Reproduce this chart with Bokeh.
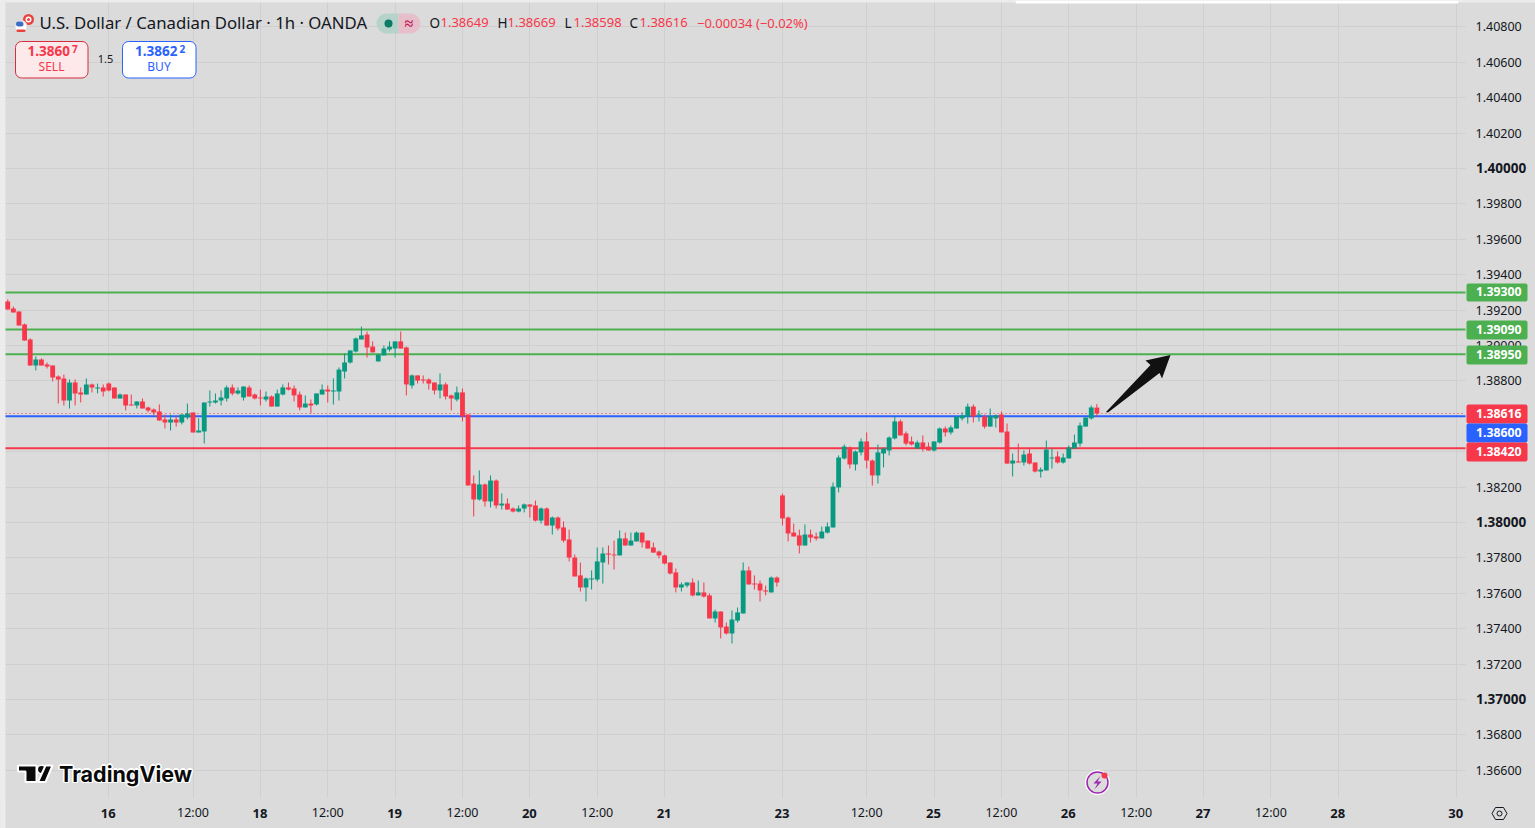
import math
from bokeh.plotting import figure
from bokeh.embed import file_html
from bokeh.resources import INLINE
from bokeh.models import (ColumnDataSource, FixedTicker, Label, BoxAnnotation, PolyAnnotation)

# Candles, in points (0.00001) above 1.38000
opens_pts = [1249,1209,1192,1119,1034,887,921,893,887,825,
814,689,791,735,723,780,757,763,785,763,
701,723,667,661,684,650,638,627,582,565,
582,565,593,622,509,514,678,678,689,701,
763,729,706,763,723,706,695,712,655,723,
763,757,723,650,672,667,723,751,740,740,
853,904,966,1034,1062,994,910,944,977,983,
1023,989,774,831,808,808,791,746,780,718,
695,735,610,220,130,215,119,237,96,107,
79,62,79,102,96,11,79,-17,28,-28,
-96,-198,-299,-367,-322,-322,-226,-175,-181,-186,
-90,-130,-107,-57,-102,-141,-164,-186,-226,-282,
-367,-356,-339,-412,-395,-412,-542,-503,-588,-627,
-554,-514,-271,-345,-345,-384,-395,-311,153,28,
-57,-73,-130,-68,-79,-90,-57,-28,198,362,
424,328,396,458,350,266,390,407,475,571,
503,458,418,452,429,407,452,531,509,531,
588,599,655,605,599,542,588,610,514,333,
345,339,390,339,288,294,362,373,339,362,
418,446,542,588,649]
closes_pts = [1203,1187,1113,1028,887,921,887,881,819,808,
689,791,729,723,780,763,763,740,746,701,
723,661,661,684,644,633,622,576,565,582,
565,610,616,509,520,678,684,689,706,763,
729,746,768,712,701,701,712,655,729,763,
751,718,650,672,661,729,751,740,746,864,
904,972,1040,1057,989,961,949,983,994,1023,
983,780,831,802,802,785,746,780,712,701,
735,599,209,130,215,119,237,96,107,73,
62,79,102,90,11,79,-17,28,-34,-102,
-198,-305,-367,-316,-316,-220,-175,-181,-186,-90,
-130,-102,-57,-113,-147,-170,-186,-232,-288,-367,
-350,-339,-412,-395,-418,-542,-503,-593,-627,-548,
-508,-271,-350,-350,-384,-390,-311,-339,23,-62,
-79,-130,-68,-85,-90,-51,-23,203,367,429,
328,401,458,350,266,396,418,480,571,492,
446,441,452,418,407,458,531,509,537,599,
605,655,599,610,542,599,605,509,333,350,
339,384,333,288,299,412,367,339,367,424,
452,548,593,650,616]
highs_pts = [1260,1220,1192,1124,1040,938,927,904,887,831,
836,808,808,763,814,785,785,780,791,763,
729,723,723,684,701,655,644,667,610,610,
599,610,672,622,588,678,746,729,746,774,
780,763,768,774,729,751,740,718,751,780,
791,774,740,718,695,729,780,774,814,876,
955,972,1045,1107,1079,1023,949,1000,1023,1023,
1079,994,836,831,831,814,791,842,791,723,
768,757,610,266,294,220,266,243,164,136,
85,96,107,102,124,85,85,34,34,6,
-40,-181,-226,-311,-271,-141,-141,-130,-102,-45,
-57,-57,-51,-57,-102,-113,-158,-181,-226,-260,
-339,-339,-316,-328,-339,-401,-492,-503,-565,-497,
-480,-226,-249,-299,-328,-356,-305,-305,164,34,
-6,-40,-11,-40,-57,-23,0,226,379,441,
429,407,475,509,356,441,424,486,599,582,
514,486,463,492,452,458,537,542,548,599,
622,672,667,633,610,644,610,627,559,390,
446,407,418,339,311,463,418,401,390,435,
497,565,593,661,669]
lows_pts = [1203,1187,1113,1028,887,859,887,870,797,672,
661,644,661,678,723,735,729,712,740,701,
701,633,661,644,644,622,605,576,531,520,
542,554,582,509,509,446,655,672,661,684,
718,723,689,712,695,661,684,655,655,718,
746,684,633,650,616,661,723,678,667,689,
814,898,961,1034,932,961,910,944,966,932,
983,718,757,785,785,751,723,701,695,633,
684,571,209,34,124,90,85,79,73,73,
57,57,57,28,6,-6,-17,-68,-45,-113,
-220,-305,-390,-446,-379,-333,-345,-237,-266,-186,
-130,-130,-107,-141,-147,-170,-203,-237,-294,-395,
-390,-367,-418,-412,-424,-542,-565,-655,-633,-684,
-565,-514,-350,-379,-446,-412,-395,-362,-17,-107,
-79,-175,-130,-113,-102,-90,-62,-28,170,356,
305,294,379,305,209,220,311,379,469,492,
435,435,418,401,407,401,446,486,497,531,
576,559,565,571,531,542,537,509,333,260,
339,322,328,283,254,294,305,333,333,362,
418,429,542,582,598]

price_ticks = [1.366,1.368,1.370,1.372,1.374,1.376,1.378,1.380,1.382,1.384,1.386,1.388,
               1.390,1.392,1.394,1.396,1.398,1.400,1.402,1.404,1.406,1.408]
bold_prices = [1.370,1.380,1.400]
time_ticks = [33,57,81,105,153,177,201,225]          # 12:00 bars
day_ticks = [18,45,69,93,117,138,165,189,213,237,258]
day_labels = ["16","18","19","20","21","23","25","26","27","28","30"]
resist_levels = [1.39300,1.39090,1.38950]
support_level = 1.38420
bid_level = 1.38600
last_price = 1.38616

BG = "#dbdbdb"; GRID = "#cfcfcf"; TXT = "#131722"
RED = "#f7374a"; GREEN = "#089981"; BLUE = "#2962ff"; LINEG = "#4caf50"
FONT = "Noto Sans"
W, H = 1535, 828
PLOT_R, PLOT_B = 1465, 797
X0, STEP = 7.25, 5.614
PX_PER_PRICE = 17700.0


def xd(px):
    return (px - X0) / STEP


p = figure(width=W, height=H, x_range=(xd(0), xd(W)),
           y_range=(1.40 - (H - 168) / PX_PER_PRICE, 1.40 + 168 / PX_PER_PRICE),
           output_backend="svg", toolbar_location=None, tools="",
           min_border_left=0, min_border_top=0, min_border_right=0, min_border_bottom=0,
           background_fill_color=BG, border_fill_color=BG, outline_line_color=None,
           y_axis_location="right")

all_grid_x = sorted(time_ticks + day_ticks)
p.xgrid.ticker = FixedTicker(ticks=all_grid_x)
p.ygrid.ticker = FixedTicker(ticks=price_ticks)
for g in (p.xgrid, p.ygrid):
    g.grid_line_color = GRID
    g.grid_line_width = 1
    g.level = "image"

ax = p.xaxis[0]
ax.ticker = FixedTicker(ticks=time_ticks)
ax.major_label_overrides = {t: "12:00" for t in time_ticks}
ax.axis_line_color = None
ax.major_tick_line_color = None
ax.minor_tick_line_color = None
ax.major_label_standoff = -31
ax.major_label_text_font = FONT
ax.major_label_text_font_size = "12.5px"
ax.major_label_text_color = TXT

ay = p.yaxis[0]
plain_prices = [v for v in price_ticks if v not in bold_prices]
ay.ticker = FixedTicker(ticks=plain_prices)
ay.major_label_overrides = {v: f"{v:.5f}" for v in plain_prices}
ay.axis_line_color = None
ay.major_tick_line_color = None
ay.minor_tick_line_color = None
ay.major_label_standoff = -66
ay.major_label_text_font = FONT
ay.major_label_text_font_size = "12.5px"
ay.major_label_text_color = TXT

o = [1.38 + v / 1e5 for v in opens_pts]
c = [1.38 + v / 1e5 for v in closes_pts]
h = [1.38 + v / 1e5 for v in highs_pts]
l = [1.38 + v / 1e5 for v in lows_pts]
colors = [RED if a > b else GREEN for a, b in zip(o, c)]
src = ColumnDataSource(dict(i=list(range(len(o))), o=o, c=c, h=h, l=l,
                            top=[max(a, b) for a, b in zip(o, c)],
                            bot=[min(a, b) for a, b in zip(o, c)],
                            col=colors))


def sy(py):
    return H - py


def box(x0, y0, x1, y1, fill, line=None, radius=0, lw=1, level="annotation"):
    p.add_layout(BoxAnnotation(left=x0, right=x1, top=sy(y0), bottom=sy(y1),
                               left_units="screen", right_units="screen", top_units="screen", bottom_units="screen",
                               fill_color=fill, fill_alpha=1, line_color=line, line_alpha=1, line_width=lw,
                               border_radius=radius, level=level))


def label(x, y, text, size="13px", color=TXT, bold=False, align="left", font=FONT, **kw):
    p.add_layout(Label(x=x, y=sy(y) + 1, x_units="screen", y_units="screen", text=text,
                       text_font=font, text_font_size=size, text_color=color,
                       text_font_style="bold" if bold else "normal",
                       text_align=align, text_baseline="middle", **kw))


def poly(pts, fill, line=None, lw=1):
    p.add_layout(PolyAnnotation(xs=[a for a, _ in pts], ys=[sy(b) for _, b in pts],
                                xs_units="screen", ys_units="screen",
                                fill_color=fill, fill_alpha=1, line_color=line, line_alpha=1, line_width=lw))


def circ(cx, cy, r, fill, line=None, lw=1):
    box(cx - r, cy - r, cx + r, cy + r, fill, line=line, radius=int(math.ceil(r)), lw=lw)


# strips that end the grid at the price and time scales
box(PLOT_R, 0, W, H, BG, level="underlay")
box(0, PLOT_B, W, H, BG, level="underlay")
box(0, 0, 5, H, "#ececec", level="underlay")
box(0, 0, W, 2, "#ececec", level="underlay")
box(1015, 0, 1458, 3, "#ffffff", radius=3, level="underlay")

# level lines
xa, xb = xd(5), xd(PLOT_R)
for lv in resist_levels:
    p.segment(xa, lv, xb, lv, line_color=LINEG, line_width=2)
p.segment(xa, support_level, xb, support_level, line_color=RED, line_width=2)
p.segment(xa, bid_level, xb, bid_level, line_color=BLUE, line_width=2)
p.segment(xa, last_price, xb, last_price, line_color=RED, line_width=1, line_dash="1 3")

p.segment("i", "h", "i", "l", source=src, line_color="col", line_width=1)
p.vbar("i", 0.86, "top", "bot", source=src, fill_color="col", line_color=None)

# arrow
poly([(1105.5, 411.5), (1107.5, 412), (1159, 372.5), (1161.5, 378), (1170, 354.5), (1145, 360), (1150, 364.5)], "#111111")

# bold price labels
for v in bold_prices:
    p.add_layout(Label(x=1475.5, y=v, y_offset=1, x_units="screen", y_units="data", text=f"{v:.5f}",
                       text_font=FONT, text_font_size="13.5px", text_font_style="bold", text_color=TXT,
                       text_baseline="middle", text_align="left"))

# day labels
for t, s in zip(day_ticks, day_labels):
    p.add_layout(Label(x=t, x_offset=-0.5, y=sy(812.5), x_units="data", y_units="screen", text=s,
                       text_font=FONT, text_font_size="13px", text_font_style="bold", text_color=TXT,
                       text_baseline="middle", text_align="center"))

# price tags
tags = [(283, 301, LINEG, "1.39300"), (320, 339, LINEG, "1.39090"), (345, 364, LINEG, "1.38950"),
        (404, 423, RED, "1.38616"), (423, 442, BLUE, "1.38600"), (442, 461, RED, "1.38420")]
for y0, y1, col, s in tags:
    box(1466, y0, 1527, y1, col, radius=2)
    label(1475.5, (y0 + y1) / 2, s, size="12.3px", color="#ffffff", bold=True)

# header
label(39, 23, "U.S. Dollar / Canadian Dollar · 1h · OANDA", size="16.75px")
# flags
circ(28, 19, 5.5, "#e8433f")
circ(28, 19, 3, "#ffffff")
circ(28, 19, 1.5, "#e8433f")
circ(20.5, 26, 6, "#ffffff", line=BG, lw=1)
box(15.5, 21, 23, 26, "#3a6fc4", radius=3)
box(16, 29, 25, 31.5, "#e8433f", radius=2)

box(376, 13, 398, 33, "#b5d3ca", radius=(10, 0, 0, 10))
box(398, 13, 420, 33, "#e6bfca", radius=(0, 10, 10, 0))
circ(388, 23, 4, "#0b7a67")
label(408.5, 23, "≈", size="16px", color="#c2185b", align="center", bold=True)

for x, s in [(429, "O"), (497, "H"), (564, "L"), (629, "C")]:
    label(x, 23, s, size="13.5px")
for x, s in [(440, "1.38649"), (507, "1.38669"), (573, "1.38598"), (639, "1.38616"), (696.5, "−0.00034 (−0.02%)")]:
    label(x, 23, s, size="13px", color=RED)

# sell / buy
box(15, 41, 87.5, 77.5, "#fde8ea", line="#d32f3f", radius=6)
box(122, 41, 195.5, 77.5, "#ffffff", line=BLUE, radius=6)
label(27, 51, "1.3860", size="13.5px", color=RED, bold=True)
label(71.5, 49, "7", size="10px", color=RED, bold=True)
label(51, 67, "SELL", size="12px", color=RED, align="center")
label(134.5, 51, "1.3862", size="13.5px", color=BLUE, bold=True)
label(179, 49, "2", size="10px", color=BLUE, bold=True)
label(158.5, 67, "BUY", size="12px", color=BLUE, align="center")
label(105, 59, "1.5", size="11px", align="center")

# TradingView mark
halo = "#ffffff"
poly([(17.5, 765), (36, 765), (36, 781.5), (25, 781.5), (25, 771), (17.5, 771)], "#0a0a0a", line=halo, lw=2)
circ(41, 769, 4.2, "#0a0a0a", line=halo, lw=1.5)
poly([(45, 765), (52, 765), (45, 781.5), (37.5, 781.5)], "#0a0a0a", line=halo, lw=2)
for dx, dy in [(-1.5, 0), (1.5, 0), (0, -1.5), (0, 1.5), (-1, -1), (1, 1), (-1, 1), (1, -1)]:
    label(58.5 + dx, 774 + dy, "TradingView", size="21.5px", color=halo, bold=True, font="Inter")
label(58.5, 774, "TradingView", size="21.5px", color="#0a0a0a", bold=True, font="Inter")

# bolt badge
circ(1097, 782, 12.5, "#ffffff")
circ(1097, 782, 10.5, "#dbdbdb", line="#9c27b0", lw=1.5)
poly([(1100, 775.5), (1093, 783), (1097, 783), (1094, 789), (1101, 781), (1097, 781)], "#9c27b0")
circ(1104, 775, 3, RED)

# settings hexagon
poly([(1491.5, 813), (1495, 807), (1503, 807), (1506.5, 813), (1503, 819), (1495, 819)], BG, line=TXT, lw=1)
circ(1499, 813, 2.5, BG, line=TXT, lw=1)

open("out.html", "w").write(file_html(p, INLINE))
